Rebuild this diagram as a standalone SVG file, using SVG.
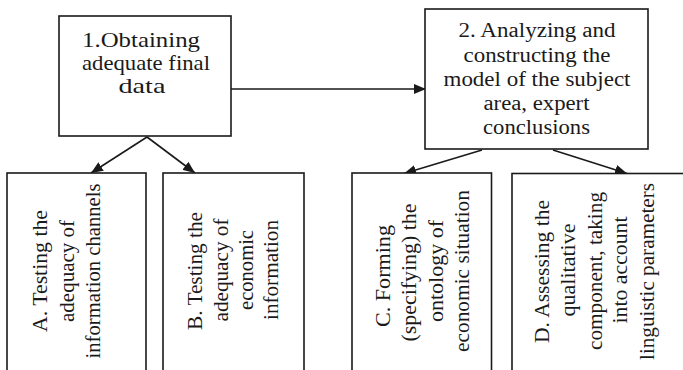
<svg xmlns="http://www.w3.org/2000/svg" width="683" height="370" viewBox="0 0 683 370">
  <style>
    .box { fill: #ffffff; stroke: #1a1a1a; stroke-width: 1.6; }
    text { font-family: 'Liberation Serif', 'Times New Roman', serif; font-size: 20px; fill: #1a1a1a; text-anchor: middle; }
    .big { font-size: 22px; }
    .edge { stroke: #1a1a1a; stroke-width: 1.6; fill: none; marker-end: url(#head); }
  </style>
  <defs>
    <marker id="head" markerUnits="userSpaceOnUse" viewBox="0 0 12 10" refX="12" refY="5" markerWidth="12" markerHeight="10" orient="auto">
      <path d="M0,0 L12,5 L0,10 Z" fill="#1a1a1a"/>
    </marker>
  </defs>
  <rect width="683" height="370" fill="#ffffff"/>

  <!-- connectors -->
  <g id="connectors">
    <line class="edge" x1="231" y1="89" x2="426" y2="89"/>
    <line class="edge" x1="147" y1="137" x2="91" y2="173"/>
    <line class="edge" x1="147" y1="137" x2="195" y2="173"/>
    <line class="edge" x1="482" y1="150" x2="404" y2="173.5"/>
    <line class="edge" x1="553" y1="150" x2="627" y2="173.5"/>
  </g>

  <!-- stage 1 -->
  <g id="node-1">
    <rect class="box" x="59" y="16" width="172" height="120"/>
    <text class="big" x="141" y="46.5" textLength="118" lengthAdjust="spacingAndGlyphs">1.Obtaining</text>
    <text class="big" x="146" y="69.5" textLength="128" lengthAdjust="spacingAndGlyphs">adequate final</text>
    <text class="big" x="142" y="93" textLength="47" lengthAdjust="spacingAndGlyphs">data</text>
  </g>

  <!-- stage 2 -->
  <g id="node-2">
    <rect class="box" x="425" y="9" width="223" height="140"/>
    <text x="537" y="36.5" textLength="157" lengthAdjust="spacingAndGlyphs">2. Analyzing and</text>
    <text x="537" y="61.5" textLength="147" lengthAdjust="spacingAndGlyphs">constructing the</text>
    <text x="537" y="86" textLength="187" lengthAdjust="spacingAndGlyphs">model of the subject</text>
    <text x="536.5" y="110" textLength="106" lengthAdjust="spacingAndGlyphs">area, expert</text>
    <text x="536.5" y="134" textLength="107" lengthAdjust="spacingAndGlyphs">conclusions</text>
  </g>

  <!-- sub-task A -->
  <g id="node-a">
    <rect class="box" x="7" y="173" width="139" height="210"/>
    <text transform="translate(47,271) rotate(-90)" textLength="122" lengthAdjust="spacingAndGlyphs">A. Testing the</text>
    <text transform="translate(74,271) rotate(-90)" textLength="102" lengthAdjust="spacingAndGlyphs">adequacy of</text>
    <text transform="translate(100,271) rotate(-90)" textLength="175" lengthAdjust="spacingAndGlyphs">information channels</text>
  </g>

  <!-- sub-task B -->
  <g id="node-b">
    <rect class="box" x="163" y="173" width="141" height="210"/>
    <text transform="translate(202,271) rotate(-90)" textLength="118" lengthAdjust="spacingAndGlyphs">B. Testing the</text>
    <text transform="translate(227.5,270) rotate(-90)" textLength="103" lengthAdjust="spacingAndGlyphs">adequacy of</text>
    <text transform="translate(253,270) rotate(-90)" textLength="80" lengthAdjust="spacingAndGlyphs">economic</text>
    <text transform="translate(278,270) rotate(-90)" textLength="100" lengthAdjust="spacingAndGlyphs">information</text>
  </g>

  <!-- sub-task C -->
  <g id="node-c">
    <rect class="box" x="352" y="173" width="139.5" height="210"/>
    <text transform="translate(390,276) rotate(-90)" textLength="102" lengthAdjust="spacingAndGlyphs">C. Forming</text>
    <text transform="translate(416,272.5) rotate(-90)" textLength="138" lengthAdjust="spacingAndGlyphs">(specifying) the</text>
    <text transform="translate(442.5,271) rotate(-90)" textLength="102" lengthAdjust="spacingAndGlyphs">ontology of</text>
    <text transform="translate(469,271) rotate(-90)" textLength="162" lengthAdjust="spacingAndGlyphs">economic situation</text>
  </g>

  <!-- sub-task D -->
  <g id="node-d">
    <rect class="box" x="512" y="173.5" width="200" height="210"/>
    <text transform="translate(548.5,271.5) rotate(-90)" textLength="143" lengthAdjust="spacingAndGlyphs">D. Assessing the</text>
    <text transform="translate(575,270) rotate(-90)" textLength="93" lengthAdjust="spacingAndGlyphs">qualitative</text>
    <text transform="translate(601.5,271) rotate(-90)" textLength="158" lengthAdjust="spacingAndGlyphs">component, taking</text>
    <text transform="translate(627,270) rotate(-90)" textLength="107" lengthAdjust="spacingAndGlyphs">into account</text>
    <text transform="translate(653.5,271.5) rotate(-90)" textLength="177" lengthAdjust="spacingAndGlyphs">linguistic parameters</text>
  </g>
</svg>
